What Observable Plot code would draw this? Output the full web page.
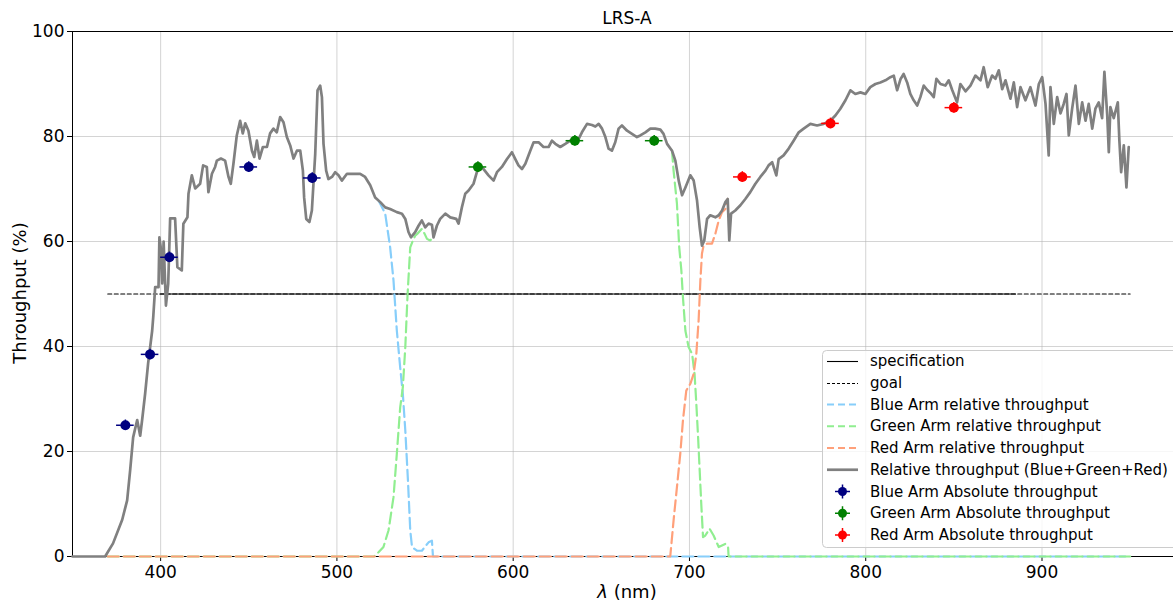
<!DOCTYPE html>
<html><head><meta charset="utf-8">
<script src="https://cdn.jsdelivr.net/npm/d3@7"></script>
<script src="https://cdn.jsdelivr.net/npm/@observablehq/plot@0.6"></script>
<style>
html,body{margin:0;padding:0;background:#fff;}
#chart{position:relative;width:1173px;height:601px;overflow:hidden;}
</style></head><body><div id="chart"></div>
<script>
// ---- text ----
const title = "LRS-A";
const yLabel = "Throughput (%)";
const xTicks = [400, 500, 600, 700, 800, 900];
const yTicks = [0, 20, 40, 60, 80, 100];
const legendLabels = ["specification", "goal", "Blue Arm relative throughput", "Green Arm relative throughput",
  "Red Arm relative throughput", "Relative throughput (Blue+Green+Red)", "Blue Arm Absolute throughput",
  "Green Arm Absolute throughput", "Red Arm Absolute throughput"];

// ---- relative throughput (Blue+Green+Red) ----
const totalNm = [350,368.5,373,378.2,381,382.7,384.4,386.7,388.4,389.5,391.2,392.9,395.2,395.8,396.9,398.8,399.3,400,400.9,401.7,403,404.3,405.4,408.2,409.5,412,412.9,415.2,415.8,417.7,419.6,422.4,424.1,426.2,427.1,429.1,430.9,431.9,434.2,436.6,438.5,439.8,441.3,443.2,445.1,446.6,448,449.8,451.8,453.1,454.6,456.1,458,460.3,462.1,464,465.9,467.8,469.7,471.6,473.5,475.4,477.3,479.2,480.7,481.4,482.6,484.4,485.8,487.7,489,490.5,491.5,492.4,493.9,495.2,497.2,499,500.9,502.8,505.7,509.4,513.2,516,518.9,521.7,524.6,527.4,530.2,534,536.9,538.8,540.6,542,544.4,546.3,548.2,550.1,552,553.9,554.8,556.7,558.6,561.5,564.3,567.7,569,570.9,572.8,574.7,577.5,579.4,581.3,583.2,586,588.9,590.8,593.6,596.5,599.3,601.2,603,605,606.9,609.7,611.6,614.4,617.2,620.1,622,623.9,626.7,629.6,632.4,636.2,639,641.9,644.7,646.6,648.5,650.4,652.3,654.1,656,657.9,659.8,661.7,664.6,667.4,670.2,672.1,675,677.8,680.6,683.5,685.3,687.3,690.1,692,693.9,695.8,697.7,700.5,702.4,704.3,705.8,707.1,708.4,710,711.8,714.7,716.6,718.5,720.4,721.7,722.6,723.6,726,728.9,731.7,734.5,737.4,740.2,743.1,744.9,746.9,749.3,750.6,753.4,756.3,759.1,762,764.8,768.6,772.4,776.1,779.9,782.8,785.6,788.5,791.3,794.1,797,799.8,802.6,805.5,808.3,811.2,814,815.9,817.8,819.7,821.5,823.5,825.3,827.2,829.2,831,832.9,834.8,836.7,838.6,840.1,842.4,845.2,847.1,849,851.8,853.7,856.6,859.4,862.2,865.1,866.9,869.2,871.7,873.6,875.5,877.4,879.3,882.1,884,885.9,887.8,890.6,893.4,896.3,898.2,900.1,902,903.8,904.8,906.7,908.6,910.5,912.3,913.9,915.2,917.1,919,920.9,922.8,924.7,926.5,928.5,930.3,932.2,934.1,935.4,937,937.9,938.8,940.7,943,943.9,944.9,946.4,947.9,949.2];
const totalVal = [0,0,2.5,7,10.7,16.4,22.7,26,23,26,31,36.8,43,45.6,51.3,51.3,60.8,59,52,60,47.8,52,64.4,64.4,55.1,54.5,63.4,64.6,69.1,72.6,70.1,71,74.5,74.2,69.4,72.9,74.2,75.4,75.8,75.4,72.3,71,74.8,80.2,83,80.6,82.5,81.1,77.3,76.1,79.2,75.8,78,78,80.6,81.5,80.8,83.7,82.7,79.9,78.3,75.8,77.3,77.3,73.5,68.4,64.3,63.7,65.9,76.7,88.8,89.7,87.5,78.6,73.5,71.9,72.3,73.2,72.6,71.6,72.9,72.9,72.9,72.3,70.7,68.4,67.5,66.5,66.2,65.6,65.3,64.3,61.8,60.8,61.8,63,64,62.7,63.4,63.2,60.8,63,64.3,65.3,64.6,64.3,63.4,66.5,69.1,69.7,71,73.2,74.5,73.8,72.6,71.6,73.2,74.2,75.7,77,75.7,74.5,73.8,74.8,77.3,78.9,78.9,78,78,79.2,78.6,78,78.6,79.2,78.9,80.8,82.4,82.2,81.9,82.4,81.5,79.9,77.7,77.3,78.9,81.5,82.1,81.1,80.5,79.9,80.2,80.8,81.5,81.5,81.3,80.5,78.6,77.3,75.4,71.6,68.8,70.3,72.6,71.6,67.8,62.7,59.2,60.2,64.3,65,64.6,65,65.9,67.5,68.1,60.2,65.3,65.9,66.9,68.1,69.4,71,72.3,73.5,74.5,75.1,72.6,75.7,76.4,77.7,79.2,80.8,81.5,82.4,82.1,82.4,83,84,85.3,86.9,88.8,88.1,88.4,88.1,89.4,90,90.3,90.7,91.3,91.6,88.8,90.9,91.9,90.3,88.1,86.9,85.9,87.5,89.7,88.9,88.3,87.5,91,90,89.7,90.7,88.9,86.5,90,88.6,89.7,91.6,90.7,93.2,89.4,91.6,91,92.6,89,90.7,87.2,90.3,85.6,89.4,86.9,89.4,85.9,90,91.3,86.2,76.4,89.4,82.4,87.5,84.4,86.2,88.1,80.2,85.3,89.7,82.4,86.5,83,86.2,81.5,85.3,86.5,83.5,92.3,84.1,77,85.6,83.5,86.5,79.2,73.2,78.3,70.3,78];

// ---- arm relative throughputs (visible parts) ----
const blueNm  = [523.6,527.4,530.2,532.1,534,535.9,537.4,538.8,540.3,541.6,542.6,545.4,548.2,552,553.9,554.5,950];
const blueVal = [67.8,65.3,58.9,52.6,43,36,31,24,14.5,5,1.8,1.1,1.1,2.7,3,0,0];
const greenRiseNm  = [370,521,523.6,526.4,529.3,532.1,534,535.9,537.4,538.8,540.1,541.6,543.1,544.4,545.7,548.2,549.7,551.1,552.9,554.6];
const greenRiseVal = [0,0,0.8,1.8,5,11.3,19.6,28.4,32.2,39.9,50,58.9,60.2,61.1,61.5,62.4,61.5,60.5,60.2,60.8];
const greenFallNm  = [690.1,691,692.9,694.2,695.4,696.3,697.7,699.5,701.5,702.9,703.9,704.9,705.8,706.7,707.7,709,711.4,713.7,716.6,720.4,721.9,722.2,950];
const greenFallVal = [77.3,73.5,67.2,58.9,54.5,49.4,43,39.9,38.6,34.8,29.1,22.7,16.4,10,3.7,4,5.3,4,1.8,2.4,1.9,0,0];
const redNm  = [370,689.1,691,692.9,694.8,696.3,698.2,700.5,702.4,703.9,705.2,706.2,707.1,708,710,712.8,714.7,716.6,718.5,720.4,721.7];
const redVal = [0,0,6.9,13.2,19.6,25.9,31.6,32.9,34.8,38.6,45,52.6,57.7,59.2,59.6,59.6,61.5,64,65.6,66.2,68.1];

// ---- specification / goal ----
const specNm = [400, 885], specVal = 50;
const goalNm = [370, 950], goalVal = 50;

// ---- absolute throughput measurements ----
const absBlueNm = [380, 394, 405, 450, 486];
const absBlueVal = [25, 38.5, 57, 74.2, 72.1];
const absGreenNm = [580, 635, 680];
const absGreenVal = [74.2, 79.2, 79.2];
const absRedNm = [730, 780, 850];
const absRedVal = [72.3, 82.5, 85.5];
const absErr = [5, 1]; // [nm, %]

// ---- colors ----
const cTotal = "#808080", cBlueRel = "#87CEFA", cGreenRel = "#90EE90", cRedRel = "#FFA07A";
const cBlueAbs = "#000080", cGreenAbs = "#008000", cRedAbs = "#FF0000";

const pts = (xs, ys) => xs.map((x, i) => ({x, y: Array.isArray(ys) ? ys[i] : ys}));
const absSets = [[pts(absBlueNm, absBlueVal), cBlueAbs], [pts(absGreenNm, absGreenVal), cGreenAbs], [pts(absRedNm, absRedVal), cRedAbs]];

const armDash = "11,5";
const marks = [
  Plot.gridX(xTicks, {stroke: "#b0b0b0", strokeOpacity: 0.55, strokeWidth: 1}),
  Plot.gridY(yTicks, {stroke: "#b0b0b0", strokeOpacity: 0.55, strokeWidth: 1}),
  Plot.axisX(xTicks, {tickSize: 5, tickPadding: 4, label: null, tickFormat: d => String(d)}),
  Plot.axisY(yTicks, {tickSize: 5, tickPadding: 3, label: null, tickFormat: d => String(d)}),
  Plot.ruleX([350], {stroke: "#000", strokeWidth: 1}),
  Plot.ruleY([0, 100], {stroke: "#000", strokeWidth: 1}),
  Plot.line(pts(specNm, specVal), {x: "x", y: "y", stroke: "#000", strokeWidth: 1.1}),
  Plot.line(pts(goalNm, goalVal), {x: "x", y: "y", stroke: "#000", strokeWidth: 1.1, strokeDasharray: "4,2.5"}),
  Plot.line(pts(blueNm, blueVal), {x: "x", y: "y", stroke: cBlueRel, strokeWidth: 2.2, strokeDasharray: armDash}),
  Plot.line(pts(greenRiseNm, greenRiseVal), {x: "x", y: "y", stroke: cGreenRel, strokeWidth: 2.2, strokeDasharray: armDash}),
  Plot.line(pts(greenFallNm, greenFallVal), {x: "x", y: "y", stroke: cGreenRel, strokeWidth: 2.2, strokeDasharray: armDash}),
  Plot.line(pts(redNm, redVal), {x: "x", y: "y", stroke: cRedRel, strokeWidth: 2.2, strokeDasharray: armDash}),
  Plot.line(pts(totalNm, totalVal), {x: "x", y: "y", stroke: cTotal, strokeWidth: 2.7, strokeLinejoin: "round"})
];
for (const [data, c] of absSets) {
  marks.push(Plot.ruleY(data, {y: "y", x1: d => d.x - absErr[0], x2: d => d.x + absErr[0], stroke: c, strokeWidth: 1.5}));
  marks.push(Plot.ruleX(data, {x: "x", y1: d => d.y - absErr[1], y2: d => d.y + absErr[1], stroke: c, strokeWidth: 1.5}));
  marks.push(Plot.dot(data, {x: "x", y: "y", r: 5, fill: c, stroke: "none"}));
}

const svg = Plot.plot({
  width: 1173, height: 601,
  marginTop: 31, marginBottom: 45, marginLeft: 72, marginRight: 0,
  x: {domain: [350, 974.6]},
  y: {domain: [0, 100]},
  style: {fontFamily: "'DejaVu Sans', sans-serif", fontSize: "17px", color: "#000", background: "#fff"},
  marks
});

const s = d3.select(svg);
// title
s.append("text").attr("x", 627).attr("y", 18).attr("text-anchor", "middle").attr("dominant-baseline", "central")
  .style("font-size", "17px").text(title);
// axis labels
const xl = s.append("text").attr("x", 627).attr("y", 591).attr("text-anchor", "middle").attr("dominant-baseline", "central").style("font-size", "18px");
xl.append("tspan").style("font-style", "italic").text("λ");
xl.append("tspan").text(" (nm)");
s.append("text").attr("transform", "translate(19,293) rotate(-90)").attr("text-anchor", "middle").attr("dominant-baseline", "central")
  .style("font-size", "18px").text(yLabel);

// legend
const lg = s.append("g").attr("text-anchor", "start");
lg.append("rect").attr("x", 822.5).attr("y", 350.5).attr("width", 400).attr("height", 197).attr("rx", 4)
  .attr("fill", "rgba(255,255,255,0.8)").attr("stroke", "#cccccc").attr("stroke-width", 1);
const rowY = i => 361 + i * 21.75;
const handles = [
  {type: "line", c: "#000", w: 1.1, dash: null},
  {type: "line", c: "#000", w: 1.1, dash: "3,2"},
  {type: "line", c: cBlueRel, w: 2.2, dash: "7,4"},
  {type: "line", c: cGreenRel, w: 2.2, dash: "7,4"},
  {type: "line", c: cRedRel, w: 2.2, dash: "7,4"},
  {type: "line", c: cTotal, w: 2.7, dash: null},
  {type: "err", c: cBlueAbs},
  {type: "err", c: cGreenAbs},
  {type: "err", c: cRedAbs}
];
handles.forEach((h, i) => {
  const y = rowY(i);
  if (h.type === "line") {
    const ly = h.w < 2 ? Math.round(y) + 0.5 : y;
    const l = lg.append("line").attr("x1", 827).attr("x2", 858).attr("y1", ly).attr("y2", ly)
      .attr("stroke", h.c).attr("stroke-width", h.w);
    if (h.dash) l.attr("stroke-dasharray", h.dash);
  } else {
    lg.append("line").attr("x1", 835).attr("x2", 850).attr("y1", y).attr("y2", y).attr("stroke", h.c).attr("stroke-width", 1.5);
    lg.append("line").attr("x1", 842.5).attr("x2", 842.5).attr("y1", y - 7).attr("y2", y + 7).attr("stroke", h.c).attr("stroke-width", 1.5);
    lg.append("circle").attr("cx", 842.5).attr("cy", y).attr("r", 4.5).attr("fill", h.c);
  }
  lg.append("text").attr("x", 870).attr("y", y).attr("text-anchor", "start").attr("dominant-baseline", "central")
    .style("font-size", "15px").text(legendLabels[i]);
});

document.getElementById("chart").appendChild(svg);
</script></body></html>
